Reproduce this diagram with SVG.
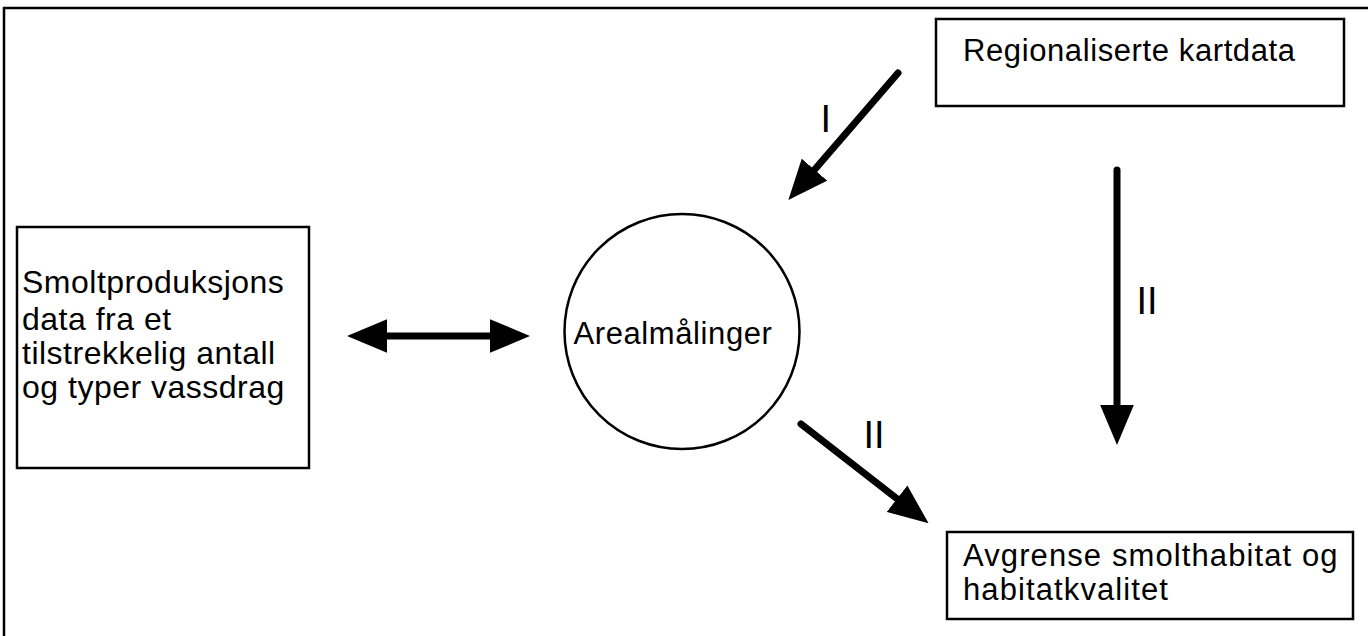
<svg xmlns="http://www.w3.org/2000/svg" width="1368" height="636" viewBox="0 0 1368 636">
<style>
.box{fill:#fff;stroke:#000;stroke-width:2.5}
.frame{fill:none;stroke:#000;stroke-width:2.5}
.t{font-family:"Liberation Sans",Arial,Helvetica,sans-serif;font-size:31px;fill:#000;letter-spacing:0.6px}
.tl{font-size:32px;letter-spacing:0.5px}
.tb{letter-spacing:1.1px}
.lbl{font-family:"Liberation Sans",Arial,Helvetica,sans-serif;font-size:38px;fill:#000}
.arr{stroke:#000;stroke-width:7;stroke-linecap:round;fill:none}
</style>
<defs>
<marker id="head" markerUnits="userSpaceOnUse" markerWidth="40" markerHeight="34" viewBox="0 0 38 32" refX="0" refY="16" orient="auto-start-reverse">
<path d="M0,0 L38,16 L0,32 Z" fill="#000"/>
</marker>
</defs>
<rect width="1368" height="636" fill="#fff"/>
<g id="frame">
<polyline class="frame" points="4,636 4,8 1368,8"/>
</g>
<g id="node-kartdata">
<rect class="box" x="936" y="19" width="408" height="87"/>
<text class="t" x="963" y="61">Regionaliserte kartdata</text>
</g>
<g id="node-smolt">
<rect class="box" x="17" y="227" width="292" height="241"/>
<text class="t tl" x="22" y="293">Smoltproduksjons</text>
<text class="t tl" x="22" y="330">data fra et</text>
<text class="t tl" x="22" y="364">tilstrekkelig antall</text>
<text class="t tl" x="22" y="398">og typer vassdrag</text>
</g>
<g id="node-areal">
<circle class="box" cx="682" cy="331.5" r="117.5"/>
<text class="t" x="673" y="344" text-anchor="middle">Arealmålinger</text>
</g>
<g id="node-avgrense">
<rect class="box" x="947" y="532" width="406" height="87"/>
<text class="t tb" x="963" y="566">Avgrense smolthabitat og</text>
<text class="t tb" x="963" y="600">habitatkvalitet</text>
</g>
<g id="connectors">
<line class="arr" x1="898" y1="73" x2="814.5" y2="169.7" marker-end="url(#head)"/>
<line class="arr" x1="1117" y1="170" x2="1117" y2="405" marker-end="url(#head)"/>
<line class="arr" x1="801" y1="424" x2="897" y2="498.7" marker-end="url(#head)"/>
<line class="arr" x1="387" y1="336" x2="490" y2="336" marker-start="url(#head)" marker-end="url(#head)"/>
<text class="lbl" x="820.5" y="132">I</text>
<text class="lbl" x="1136.5" y="314">II</text>
<text class="lbl" x="863.5" y="448">II</text>
</g>
</svg>
